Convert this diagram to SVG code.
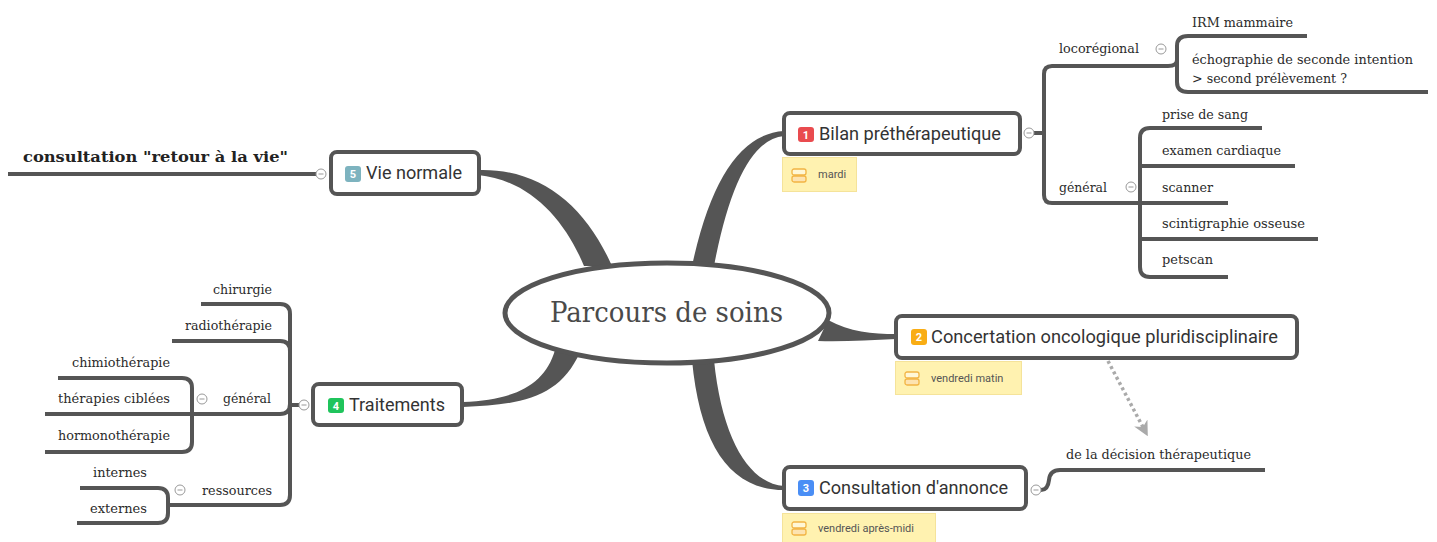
<svg xmlns="http://www.w3.org/2000/svg" width="1437" height="542" viewBox="0 0 1437 542">
  <defs>
    <style>
      .branch { fill: #555; stroke: none; }
      .line { fill: none; stroke: #555; stroke-width: 4; stroke-linecap: butt; stroke-linejoin: round; }
      .node { fill: #fff; stroke: #555; stroke-width: 4; }
      .title { font-family: Roboto, "Noto Sans", sans-serif; font-size: 18px; fill: #333; }
      .badge-t { font-family: Roboto, "Noto Sans", sans-serif; font-size: 11px; font-weight: bold; fill: #fff; text-anchor: middle; }
      .sub { font-family: "DejaVu Serif", "Liberation Serif", serif; font-size: 13.5px; fill: #2b2b2b; }
      .note { fill: #fff2b0; stroke: #f5e39a; stroke-width: 1; }
      .note-t { font-family: Roboto, "Noto Sans", sans-serif; font-size: 11px; fill: #555; }
      .toggle { fill: #fff; stroke: #999; stroke-width: 1; }
      .toggle-m { stroke: #999; stroke-width: 1; }
      .rel { fill: none; stroke: #aaa; stroke-width: 3.5; stroke-dasharray: 3 3; }
    </style>
    <marker id="relArrow" viewBox="0 0 10 10" refX="6" refY="5" markerWidth="15" markerHeight="15" orient="auto" markerUnits="userSpaceOnUse">
      <path d="M0,0 L10,5 L0,10 L3,5 z" fill="#aaa"/>
    </marker>
    <g id="noteIcon">
      <rect x="0" y="0" width="14" height="6" rx="2" fill="#fff7d6" stroke="#f2b443" stroke-width="1.3"/>
      <rect x="0" y="7" width="14" height="6" rx="2" fill="#fde3b0" stroke="#f2b443" stroke-width="1.3"/>
    </g>
    <g id="toggleIcon">
      <circle class="toggle" cx="0" cy="0" r="5"/>
      <line class="toggle-m" x1="-2.5" y1="0" x2="2.5" y2="0"/>
    </g>
  </defs>

  <rect width="1437" height="542" fill="#fff"/>

  <!-- main tapered branches from the central topic -->
  <g id="connectors">
    <path class="branch" d="M692,266 Q720,135 784,131 L784,136 Q738,140 714,266 Z"/>
    <path class="branch" d="M478,170 C540,168 585,205 612,266 L584,266 C565,220 530,180 478,175 Z"/>
    <path class="branch" d="M580,352 C560,398 520,405 463,407 L463,402 C515,400 545,385 555,350 Z"/>
    <path class="branch" d="M828,320 C850,332 872,334 896,334 L896,339 C870,340 842,342 818,341 Z"/>
    <path class="branch" d="M692,360 C700,445 730,490 784,490 L784,486 C750,484 722,440 714,360 Z"/>

    <!-- Bilan sub-tree -->
    <path class="line" d="M1034,133 H1044"/>
    <path class="line" d="M1168,66 H1052 Q1044,66 1044,74 V195 Q1044,203 1052,203 H1228"/>
    <path class="line" d="M1307,36 H1188 Q1177,36 1177,46 V82 Q1177,92 1188,92 H1428"/>
    <path class="line" d="M1168,66 Q1177,66 1177,60"/>
    <path class="line" d="M1262,128 H1150 Q1140,128 1140,138 V267 Q1140,277 1150,277 H1228"/>
    <path class="line" d="M1140,166 Q1140,166 1150,166 H1295"/>
    <path class="line" d="M1140,239 Q1140,239 1150,239 H1318"/>

    <!-- Vie normale sub-tree -->
    <path class="line" d="M8,174 H316"/>

    <!-- Traitements sub-tree -->
    <path class="line" d="M299,405 H290"/>
    <path class="line" d="M201,304 H280 Q290,304 290,314 V495 Q290,505 280,505 H168"/>
    <path class="line" d="M172,341 H280 Q290,341 290,351"/>
    <path class="line" d="M45,414 H280 Q290,414 290,404"/>
    <path class="line" d="M58,378 H182 Q192,378 192,388 V442 Q192,452 182,452 H45"/>
    <path class="line" d="M80,488 H158 Q168,488 168,498 V513 Q168,523 158,523 H77"/>

    <!-- Consultation d'annonce sub-tree -->
    <path class="line" d="M1041,490 Q1048,490 1049,480 Q1050,470 1060,470 H1265"/>

    <!-- relationship -->
    <path class="rel" d="M1108,361 L1145,431" marker-end="url(#relArrow)"/>
  </g>

  <!-- collapse toggles -->
  <g id="toggles">
    <use href="#toggleIcon" x="1029" y="133"/>
    <use href="#toggleIcon" x="1161" y="49"/>
    <use href="#toggleIcon" x="1131" y="187"/>
    <use href="#toggleIcon" x="321" y="174"/>
    <use href="#toggleIcon" x="304" y="405"/>
    <use href="#toggleIcon" x="202" y="399"/>
    <use href="#toggleIcon" x="180" y="490"/>
    <use href="#toggleIcon" x="1036" y="490"/>
  </g>

  <!-- central topic -->
  <g id="central">
    <ellipse cx="667" cy="313" rx="162" ry="50" fill="#fff" stroke="#555" stroke-width="5"/>
    <text x="550" y="322" font-family="DejaVu Serif, Liberation Serif, serif" font-size="27" fill="#4a4a4a" textLength="233" lengthAdjust="spacingAndGlyphs">Parcours de soins</text>
  </g>

  <g id="node-bilan">
    <rect class="node" x="784" y="113" width="236" height="41" rx="6"/>
    <rect x="798" y="127" width="16" height="15" rx="3" fill="#e94b4f"/>
    <text class="badge-t" x="806" y="138.5">1</text>
    <text class="title" x="819" y="140" textLength="182" lengthAdjust="spacingAndGlyphs">Bilan préthérapeutique</text>
    <rect class="note" x="782.5" y="157.5" width="74" height="34"/>
    <use href="#noteIcon" x="792" y="169"/>
    <text class="note-t" x="818" y="178">mardi</text>
  </g>

  <g id="node-locoregional">
    <text class="sub" x="1059" y="53" textLength="80" lengthAdjust="spacingAndGlyphs">locorégional</text>
  </g>
  <g id="node-irm">
    <text class="sub" x="1192" y="27" textLength="101" lengthAdjust="spacingAndGlyphs">IRM mammaire</text>
  </g>
  <g id="node-echographie">
    <text class="sub" x="1192" y="64" textLength="221" lengthAdjust="spacingAndGlyphs">échographie de seconde intention</text>
    <text class="sub" x="1192" y="83" textLength="155" lengthAdjust="spacingAndGlyphs">&gt; second prélèvement ?</text>
  </g>
  <g id="node-general-bilan">
    <text class="sub" x="1059" y="192" textLength="48" lengthAdjust="spacingAndGlyphs">général</text>
  </g>
  <g id="node-sang">
    <text class="sub" x="1162" y="119" textLength="86" lengthAdjust="spacingAndGlyphs">prise de sang</text>
  </g>
  <g id="node-cardiaque">
    <text class="sub" x="1162" y="155" textLength="119" lengthAdjust="spacingAndGlyphs">examen cardiaque</text>
  </g>
  <g id="node-scanner">
    <text class="sub" x="1162" y="192" textLength="51" lengthAdjust="spacingAndGlyphs">scanner</text>
  </g>
  <g id="node-scintigraphie">
    <text class="sub" x="1162" y="228" textLength="143" lengthAdjust="spacingAndGlyphs">scintigraphie osseuse</text>
  </g>
  <g id="node-petscan">
    <text class="sub" x="1162" y="264" textLength="51" lengthAdjust="spacingAndGlyphs">petscan</text>
  </g>

  <g id="node-concertation">
    <rect class="node" x="896" y="316" width="401" height="42" rx="6"/>
    <rect x="911" y="329" width="16" height="16" rx="3" fill="#f9ad14"/>
    <text class="badge-t" x="919" y="341">2</text>
    <text class="title" x="931" y="343" textLength="347" lengthAdjust="spacingAndGlyphs">Concertation oncologique pluridisciplinaire</text>
    <rect class="note" x="895.5" y="361.5" width="126" height="33"/>
    <use href="#noteIcon" x="905" y="372"/>
    <text class="note-t" x="931" y="382">vendredi matin</text>
  </g>

  <g id="node-annonce">
    <rect class="node" x="784" y="467" width="242" height="42" rx="6"/>
    <rect x="798" y="480" width="16" height="16" rx="3" fill="#4a8ef5"/>
    <text class="badge-t" x="806" y="492">3</text>
    <text class="title" x="819" y="494" textLength="189" lengthAdjust="spacingAndGlyphs">Consultation d'annonce</text>
    <rect class="note" x="782.5" y="513.5" width="153" height="32"/>
    <use href="#noteIcon" x="792" y="522"/>
    <text class="note-t" x="818" y="532">vendredi après-midi</text>
  </g>
  <g id="node-decision">
    <text class="sub" x="1066" y="459" textLength="185" lengthAdjust="spacingAndGlyphs">de la décision thérapeutique</text>
  </g>

  <g id="node-traitements">
    <rect class="node" x="313" y="384" width="149" height="41" rx="6"/>
    <rect x="328" y="398" width="16" height="15" rx="3" fill="#1fc45c"/>
    <text class="badge-t" x="336" y="409.5">4</text>
    <text class="title" x="349" y="411" textLength="96" lengthAdjust="spacingAndGlyphs">Traitements</text>
  </g>
  <g id="node-chirurgie">
    <text class="sub" x="272" y="294" text-anchor="end" textLength="59" lengthAdjust="spacingAndGlyphs">chirurgie</text>
  </g>
  <g id="node-radiotherapie">
    <text class="sub" x="272" y="330" text-anchor="end" textLength="87" lengthAdjust="spacingAndGlyphs">radiothérapie</text>
  </g>
  <g id="node-general-traitements">
    <text class="sub" x="271" y="403" text-anchor="end" textLength="48" lengthAdjust="spacingAndGlyphs">général</text>
  </g>
  <g id="node-chimiotherapie">
    <text class="sub" x="170" y="367" text-anchor="end" textLength="98" lengthAdjust="spacingAndGlyphs">chimiothérapie</text>
  </g>
  <g id="node-ciblees">
    <text class="sub" x="170" y="403" text-anchor="end" textLength="112" lengthAdjust="spacingAndGlyphs">thérapies ciblées</text>
  </g>
  <g id="node-hormonotherapie">
    <text class="sub" x="170" y="440" text-anchor="end" textLength="112" lengthAdjust="spacingAndGlyphs">hormonothérapie</text>
  </g>
  <g id="node-ressources">
    <text class="sub" x="272" y="495" text-anchor="end" textLength="70" lengthAdjust="spacingAndGlyphs">ressources</text>
  </g>
  <g id="node-internes">
    <text class="sub" x="147" y="477" text-anchor="end" textLength="54" lengthAdjust="spacingAndGlyphs">internes</text>
  </g>
  <g id="node-externes">
    <text class="sub" x="147" y="513" text-anchor="end" textLength="57" lengthAdjust="spacingAndGlyphs">externes</text>
  </g>

  <g id="node-vie">
    <rect class="node" x="331" y="152" width="148" height="42" rx="6"/>
    <rect x="345" y="166" width="16" height="16" rx="3" fill="#7db3bf"/>
    <text class="badge-t" x="353" y="178">5</text>
    <text class="title" x="366" y="179" textLength="96" lengthAdjust="spacingAndGlyphs">Vie normale</text>
  </g>
  <g id="node-retour">
    <text x="23" y="162" font-family="DejaVu Serif, Liberation Serif, serif" font-size="14.5" font-weight="bold" fill="#222" textLength="265" lengthAdjust="spacingAndGlyphs">consultation "retour à la vie"</text>
  </g>
</svg>
